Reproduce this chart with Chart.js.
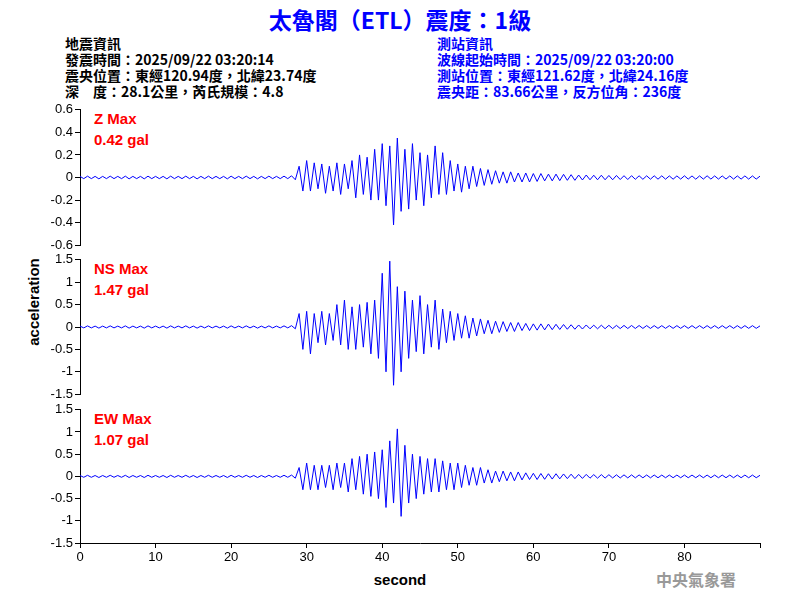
<!DOCTYPE html>
<html><head><meta charset="utf-8">
<script src="https://cdn.jsdelivr.net/npm/chart.js@4"></script>
<style>
body{margin:0;width:800px;height:600px;background:#fff;position:relative;overflow:hidden;font-family:"Liberation Sans",Arial,sans-serif}
canvas{position:absolute;left:0}
.t{position:absolute;white-space:pre;font-family:"Noto Sans CJK TC","Liberation Sans",sans-serif;font-weight:bold;font-size:14px;line-height:16px}
.r{position:absolute;color:#f00;font-weight:bold;font-size:15px;line-height:21px}
</style></head><body>
<div class="t" style="left:0;width:800px;top:4px;text-align:center;color:#00f;font-size:23px;line-height:30px">太魯閣（ETL）震度：1級</div>
<div class="t" style="left:65px;top:35px;color:#000">地震資訊
發震時間：2025/09/22 03:20:14
震央位置：東經120.94度，北緯23.74度
深　度：28.1公里，芮氏規模：4.8</div>
<div class="t" style="left:437px;top:35px;color:#00f">測站資訊
波線起始時間：2025/09/22 03:20:00
測站位置：東經121.62度，北緯24.16度
震央距：83.66公里，反方位角：236度</div>
<div class="r" style="left:94px;top:108px">Z Max<br>0.42 gal</div>
<div class="r" style="left:94px;top:258px">NS Max<br>1.47 gal</div>
<div class="r" style="left:94px;top:408px">EW Max<br>1.07 gal</div>
<div style="position:absolute;left:33px;top:302px;transform:translate(-50%,-50%) rotate(-90deg);font-weight:bold;font-size:15px">acceleration</div>
<div style="position:absolute;left:0;width:800px;top:571px;text-align:center;font-weight:bold;font-size:15px">second</div>
<div class="t" style="left:656px;top:571px;color:#999;font-size:16px;font-family:'Noto Sans CJK TC',serif">中央氣象署</div>
<canvas id="c1" width="800" height="155" style="top:100px"></canvas>
<canvas id="c2" width="800" height="154" style="top:250px"></canvas>
<canvas id="c3" width="800" height="200" style="top:400px"></canvas>
<script>
const sampleStep = 0.5; // seconds between samples
const zValues = [
0.01,-0.01,0.012,-0.01,0.01,-0.012,0.01,-0.01,0.012,-0.01,
0.01,-0.01,0.012,-0.012,0.01,-0.01,0.01,-0.012,0.012,-0.01,
0.01,-0.01,0.01,-0.012,0.012,-0.01,0.01,-0.01,0.012,-0.01,
0.01,-0.012,0.01,-0.01,0.012,-0.01,0.01,-0.01,0.01,-0.012,
0.012,-0.01,0.01,-0.01,0.012,-0.01,0.01,-0.012,0.01,-0.01,
0.012,-0.01,0.01,-0.01,0.012,-0.01,0.015,-0.02,
0.1,-0.12,0.15,-0.12,0.13,-0.1,0.12,-0.14,0.1,-0.12,0.13,-0.15,0.12,-0.1,0.15,-0.18,
0.2,-0.15,0.18,-0.2,0.25,-0.2,0.3,-0.25,0.28,-0.42,0.35,-0.3,0.25,-0.28,0.3,-0.2,
0.22,-0.25,0.2,-0.18,0.28,-0.15,0.22,-0.15,0.15,-0.12,0.12,-0.13,0.1,-0.1,0.1,-0.08,
0.08,-0.07,0.07,-0.06,0.06,-0.05,0.05,-0.05,0.05,-0.04,0.04,-0.04,0.04,-0.04,0.035,-0.035,
0.035,-0.03,0.03,-0.03,0.03,-0.028,0.028,-0.025,0.025,-0.025,0.022,-0.022,0.022,-0.02,0.02,-0.02,
0.02,-0.02,0.018,-0.02,0.018,-0.018,0.016,-0.018,0.016,-0.016,0.015,-0.016,0.015,-0.015,0.015,-0.015,
0.015,-0.015,0.014,-0.015,0.014,-0.014,0.015,-0.014,0.014,-0.015,0.014,-0.014,0.015,-0.014,0.014,-0.014,
0.014,-0.014,0.014,-0.014,0.014,-0.014,0.014,-0.014,0.014,-0.014,0.012];
const nsValues = [
0.02,-0.02,0.025,-0.02,0.02,-0.025,0.02,-0.02,0.025,-0.02,
0.02,-0.02,0.025,-0.025,0.02,-0.02,0.02,-0.025,0.025,-0.02,
0.02,-0.02,0.02,-0.025,0.025,-0.02,0.02,-0.02,0.025,-0.02,
0.02,-0.025,0.02,-0.02,0.025,-0.02,0.02,-0.02,0.02,-0.025,
0.025,-0.02,0.02,-0.02,0.025,-0.02,0.02,-0.025,0.02,-0.02,
0.025,-0.02,0.02,-0.02,0.025,-0.02,0.03,-0.04,
0.3,-0.5,0.35,-0.6,0.3,-0.35,0.35,-0.4,0.3,-0.3,0.5,-0.4,0.6,-0.5,0.45,-0.5,
0.5,-0.45,0.55,-0.6,0.6,-0.7,1.2,-1.0,1.47,-1.3,0.9,-1.0,0.8,-0.7,0.6,-0.55,
0.7,-0.6,0.5,-0.45,0.6,-0.5,0.4,-0.35,0.35,-0.3,0.3,-0.25,0.25,-0.25,0.2,-0.2,
0.18,-0.15,0.15,-0.15,0.13,-0.12,0.12,-0.1,0.1,-0.1,0.1,-0.08,0.08,-0.08,0.07,-0.07,
0.07,-0.065,0.065,-0.06,0.06,-0.055,0.055,-0.05,0.05,-0.05,0.045,-0.045,0.045,-0.04,0.04,-0.04,
0.04,-0.038,0.038,-0.036,0.036,-0.035,0.035,-0.034,0.034,-0.033,0.033,-0.032,0.032,-0.032,0.031,-0.031,
0.03,-0.03,0.03,-0.03,0.03,-0.03,0.03,-0.03,0.03,-0.03,0.03,-0.03,0.03,-0.03,0.03,-0.03,
0.03,-0.03,0.03,-0.03,0.03,-0.03,0.03,-0.03,0.03,-0.03,0.025];
const ewValues = [
0.02,-0.02,0.025,-0.02,0.02,-0.025,0.02,-0.02,0.025,-0.02,
0.02,-0.02,0.025,-0.025,0.02,-0.02,0.02,-0.025,0.025,-0.02,
0.02,-0.02,0.02,-0.025,0.025,-0.02,0.02,-0.02,0.025,-0.02,
0.02,-0.025,0.02,-0.02,0.025,-0.02,0.02,-0.02,0.02,-0.025,
0.025,-0.02,0.02,-0.02,0.025,-0.02,0.02,-0.025,0.02,-0.02,
0.025,-0.02,0.02,-0.02,0.025,-0.02,0.03,-0.04,
0.2,-0.3,0.3,-0.3,0.25,-0.3,0.25,-0.25,0.25,-0.3,0.3,-0.25,0.3,-0.35,0.4,-0.3,
0.45,-0.4,0.5,-0.45,0.55,-0.5,0.6,-0.7,0.8,-0.6,1.07,-0.9,0.7,-0.6,0.5,-0.5,
0.45,-0.4,0.4,-0.35,0.4,-0.35,0.35,-0.3,0.3,-0.3,0.3,-0.25,0.25,-0.2,0.2,-0.2,
0.2,-0.15,0.15,-0.15,0.12,-0.12,0.12,-0.1,0.1,-0.1,0.1,-0.08,0.08,-0.07,0.07,-0.07,
0.065,-0.065,0.06,-0.06,0.06,-0.055,0.055,-0.05,0.05,-0.05,0.045,-0.045,0.045,-0.04,0.04,-0.04,
0.04,-0.038,0.038,-0.036,0.036,-0.035,0.035,-0.034,0.034,-0.033,0.033,-0.032,0.032,-0.032,0.031,-0.031,
0.03,-0.03,0.03,-0.03,0.03,-0.03,0.03,-0.03,0.03,-0.03,0.03,-0.03,0.03,-0.03,0.03,-0.03,
0.03,-0.03,0.03,-0.03,0.03,-0.03,0.03,-0.03,0.03,-0.03,0.025];
const xTickStep = 10, xMax = 90;
const panels = [
 {id:'c1', values:zValues, min:-0.6, max:0.6, step:0.2, showX:false, pad:{top:8,bottom:7}},
 {id:'c2', values:nsValues, min:-1.5, max:1.5, step:0.5, showX:false, pad:{top:8,bottom:7}},
 {id:'c3', values:ewValues, min:-1.5, max:1.5, step:0.5, showX:true, pad:{top:8,bottom:31}}
];
const tickFont = {family:'"Liberation Sans",Arial,sans-serif', size:13};
panels.forEach(p=>{
 const xScale = {type:'linear',min:0,max:xMax,display:p.showX,
   grid:{drawOnChartArea:false,drawTicks:true,tickLength:5,color:'#000'},border:{color:'#000'},
   ticks:{stepSize:xTickStep,color:'#000',font:tickFont,padding:2,callback:v=>v>=xMax?'':v}};
 if (p.showX) xScale.afterFit = s=>{s.height=26};
 new Chart(document.getElementById(p.id),{
  type:'line',
  data:{datasets:[{data:p.values.map((v,i)=>({x:i*sampleStep,y:v})),borderColor:'#0000ff',borderWidth:1,pointRadius:0,tension:0}]},
  options:{responsive:false,animation:false,devicePixelRatio:1,
   layout:{padding:{left:20,right:40,top:p.pad.top,bottom:p.pad.bottom}},
   plugins:{legend:{display:false},tooltip:{enabled:false}},
   scales:{
    x:xScale,
    y:{min:p.min,max:p.max,grid:{drawOnChartArea:false,tickLength:5,color:'#000'},border:{color:'#000'},
       ticks:{stepSize:p.step,autoSkip:false,color:'#000',font:tickFont,padding:2,callback:v=>Math.round(v*10)/10},
       afterFit:s=>{s.width=60}}
   }}
 });
});
</script></body></html>
